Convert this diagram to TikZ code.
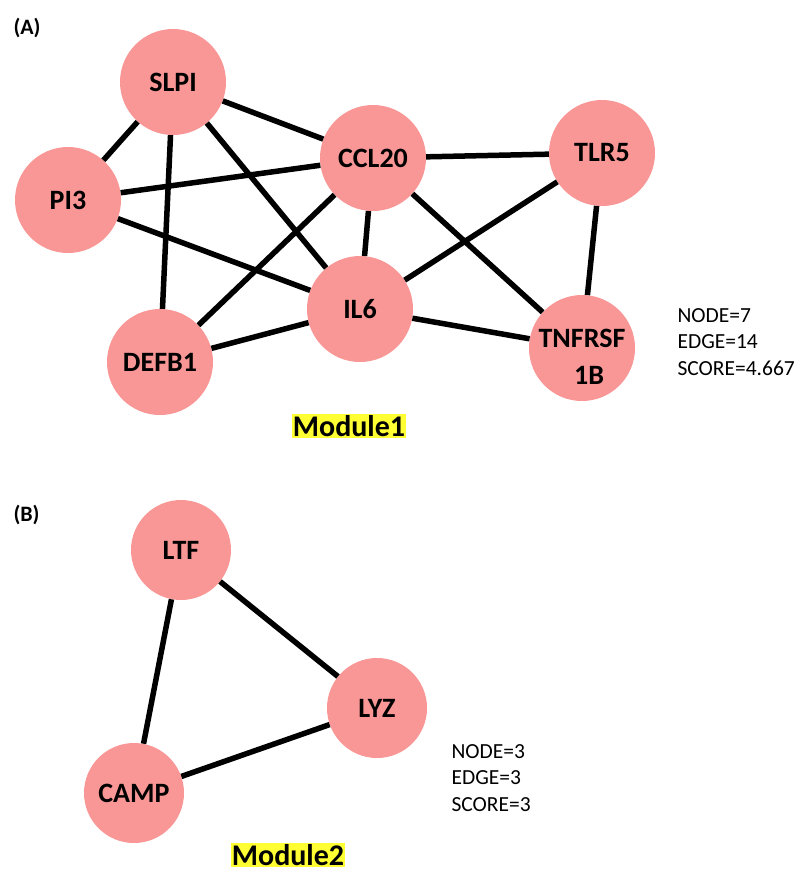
\documentclass[tikz,border=0pt]{standalone}
\usepackage{fontspec}
\setmainfont{Carlito}
\definecolor{genepink}{HTML}{F99797}
\definecolor{hilite}{HTML}{FFFF33}
\tikzset{
  gene/.style={circle, fill=genepink, minimum size=106pt, inner sep=0pt, font=\fontsize{28}{32}\selectfont\bfseries, align=center},
  genesmall/.style={gene, minimum size=100pt},
  link/.style={line width=5.5pt, black},
  panel/.style={font=\fontsize{22}{26}\selectfont\bfseries, anchor=west},
  stats/.style={font=\fontsize{21.5}{26.5}\selectfont, align=left, anchor=west},
  modname/.style={fill=hilite, inner sep=1pt, font=\fontsize{30}{34}\selectfont\bfseries}
}

\begin{document}
\begin{tikzpicture}[x=1pt,y=-1pt]
\useasboundingbox (0,0) rectangle (797,873);

% (A) module 1
\node[panel] (labA) at (10,28) {(A)};
\node[gene] (slpi) at (173,82) {SLPI};
\node[gene] (pi3) at (68,200) {PI3};
\node[gene] (ccl20) at (373,158) {CCL20};
\node[gene] (tlr5) at (602,153) {TLR5};
\node[gene] (il6) at (360,309) {IL6};
\node[gene] (defb1) at (160,362) {DEFB1};
\node[gene, label={[font=\fontsize{28}{37}\selectfont\bfseries, align=center, yshift=-9pt]center:TNFRSF\\\hspace*{0.5em}1B}] (tnfrsf) at (582,348) {};

\draw[link] (slpi) -- (pi3);
\draw[link] (slpi) -- (ccl20);
\draw[link] (slpi) -- (defb1);
\draw[link] (slpi) -- (il6);
\draw[link] (pi3) -- (ccl20);
\draw[link] (pi3) -- (il6);
\draw[link] (ccl20) -- (tlr5);
\draw[link] (ccl20) -- (il6);
\draw[link] (ccl20) -- (defb1);
\draw[link] (ccl20) -- (tnfrsf);
\draw[link] (tlr5) -- (il6);
\draw[link] (tlr5) -- (tnfrsf);
\draw[link] (il6) -- (defb1);
\draw[link] (il6) -- (tnfrsf);

\node[stats] (statsA) at (674,342) {NODE=7\\EDGE=14\\SCORE=4.667};
\node[modname] (modA) at (349,426) {Module1};

% (B) module 2
\node[panel] (labB) at (10,515) {(B)};
\node[genesmall] (ltf) at (181,550) {LTF};
\node[genesmall] (lyz) at (377,708) {LYZ};
\node[genesmall] (camp) at (134,793) {CAMP};

\draw[link] (ltf) -- (lyz);
\draw[link] (ltf) -- (camp);
\draw[link] (camp) -- (lyz);

\node[stats] (statsB) at (448,778) {NODE=3\\EDGE=3\\SCORE=3};
\node[modname] (modB) at (288,855) {Module2};
\end{tikzpicture}
\end{document}
